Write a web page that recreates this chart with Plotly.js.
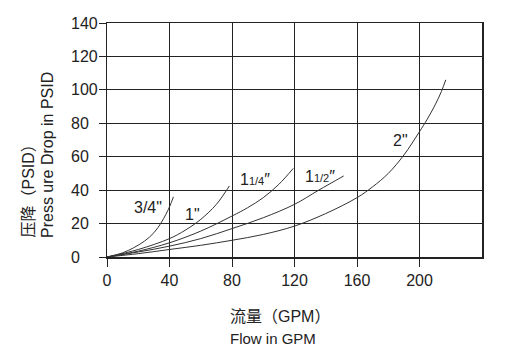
<!DOCTYPE html>
<html>
<head>
<meta charset="utf-8">
<script src="https://cdn.plot.ly/plotly-3.0.1.min.js"></script>
<style>html,body{margin:0;padding:0;background:#fff;}#chart{width:518px;height:360px;}</style>
</head>
<body>
<div id="chart"></div>
<script>
// Flow (GPM) vs pressure drop (PSID) per port size
const x34 = [0, 10, 17, 24, 30, 35, 40, 42.5];
const y34 = [0, 2.5, 5.5, 9.5, 14.5, 21, 30, 36];
const x1 = [0, 20, 40, 50, 60, 70, 78.3];
const y1 = [0, 4.5, 11, 16, 22.5, 31.5, 42.5];
const x114 = [0, 20, 40, 60, 80, 90, 100, 110, 119.2];
const y114 = [0, 3.5, 8.5, 15.5, 24.5, 29.5, 35.5, 43.5, 53];
const x112 = [0, 20, 40, 60, 80, 100, 120, 135.5, 151.5];
const y112 = [0, 3, 6.5, 11, 17, 23.5, 31.5, 40, 48.5];
const x2 = [0, 20, 40, 60, 80, 100, 120, 140, 160, 170, 180, 190, 200, 205, 210, 214, 216.8];
const y2 = [0, 2, 4.5, 7, 10, 13.5, 18.5, 26, 35.5, 42, 50, 61, 75, 82.5, 91, 99, 106];

const seriesX = [x34, x1, x114, x112, x2];
const seriesY = [y34, y1, y114, y112, y2];

const curveLabels = ['3/4"', '1"', "1<span style='font-size:11px'>1/4</span>″", "1<span style='font-size:11px'>1/2</span>″", '2"'];
const labelX = [26, 55, 95, 136, 188];
const labelY = [29.5, 25.5, 46.5, 48, 70];

const xTickVals = [0, 40, 80, 120, 160, 200];
const yTickVals = [0, 20, 40, 60, 80, 100, 120, 140];
const yTickText = ['0', '20', '40', '60', '80', '100', '120', '140'];

const FONT = 'Liberation Sans, Arial, Noto Sans CJK SC, sans-serif';
const INK = '#222';

const traces = seriesX.map((xs, i) => ({
  x: xs, y: seriesY[i], type: 'scatter', mode: 'lines',
  line: {color: '#333', width: 1, shape: 'spline', smoothing: 1},
  hoverinfo: 'skip', showlegend: false
}));

const annotations = [];
curveLabels.forEach((t, i) => annotations.push({
  x: labelX[i], y: labelY[i], xref: 'x', yref: 'y', text: t, showarrow: false,
  font: {family: FONT, size: 16, color: INK}, xanchor: 'center', yanchor: 'middle'
}));
yTickVals.forEach((v, i) => annotations.push({
  x: 0, y: v, xref: 'paper', yref: 'y', text: yTickText[i], showarrow: false,
  xanchor: 'left', yanchor: 'middle', xshift: -38,
  font: {family: FONT, size: 16, color: INK}
}));
annotations.push({
  x: (228 - 107) / 375, y: -59 / 234, xref: 'paper', yref: 'paper',
  text: '流量（GPM）', showarrow: false, xanchor: 'left', yanchor: 'middle',
  font: {family: FONT, size: 16, color: INK}
});
annotations.push({
  x: (228 - 107) / 375, y: -81 / 234, xref: 'paper', yref: 'paper',
  text: 'Flow in GPM', showarrow: false, xanchor: 'left', yanchor: 'middle',
  font: {family: FONT, size: 15, color: INK}
});
annotations.push({
  x: (28 - 107) / 375, y: (257 - 240) / 234, xref: 'paper', yref: 'paper',
  text: '压降（PSID）', showarrow: false, textangle: -90, xanchor: 'center', yanchor: 'bottom',
  font: {family: FONT, size: 16, color: INK}
});
annotations.push({
  x: (47 - 107) / 375, y: (257 - 240) / 234, xref: 'paper', yref: 'paper',
  text: 'Press ure Drop in PSID', showarrow: false, textangle: -90, xanchor: 'center', yanchor: 'bottom',
  font: {family: FONT, size: 16, color: INK}
});

const layout = {
  width: 518, height: 360,
  margin: {l: 107, r: 36, t: 23, b: 103},
  paper_bgcolor: '#fff', plot_bgcolor: '#fff',
  font: {family: FONT, size: 16, color: INK},
  showlegend: false,
  xaxis: {
    range: [0, 240], tickvals: xTickVals, ticktext: xTickVals.map(String),
    showgrid: true, gridcolor: '#222', gridwidth: 1,
    zeroline: false, showline: true, linecolor: '#222', linewidth: 1.5, mirror: true,
    ticks: 'outside', ticklen: 8, tickcolor: '#222', tickwidth: 1,
    tickfont: {family: FONT, size: 16, color: INK}, fixedrange: true
  },
  yaxis: {
    range: [0, 140], tickvals: yTickVals, showticklabels: false,
    showgrid: true, gridcolor: '#222', gridwidth: 1,
    zeroline: false, showline: true, linecolor: '#222', linewidth: 1.5, mirror: true,
    ticks: 'outside', ticklen: 7, tickcolor: '#222', tickwidth: 1, fixedrange: true
  },
  annotations: annotations
};

Plotly.newPlot('chart', traces, layout, {displayModeBar: false, staticPlot: true});
</script>
</body>
</html>
